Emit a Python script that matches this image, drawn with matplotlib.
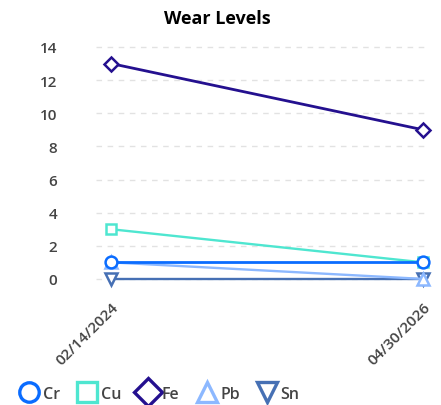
import matplotlib.pyplot as plt
from matplotlib.lines import Line2D

plt.rcParams['font.family'] = ['Open Sans', 'DejaVu Sans']

dates = ["02/14/2024", "04/30/2026"]
elements = ["Cr", "Cu", "Fe", "Pb", "Sn"]
cr = [1, 1]
cu = [3, 1]
fe = [13, 9]
pb = [1, 0]
sn = [0, 0]
yticks = [0, 2, 4, 6, 8, 10, 12, 14]

series = [cr, cu, fe, pb, sn]
colors = ["#0a6cff", "#4ee6d0", "#24108f", "#8cb8ff", "#4670b4"]
markers = ["o", "s", "D", "^", "v"]
msizes = [8.5, 6.5, 7, 8, 8]
lwidths = [2.0, 1.7, 2.0, 1.7, 1.7]
zorders = [5, 4, 6, 3, 2]

fig = plt.figure(figsize=(4.41, 4.06), dpi=100)
ax = fig.add_axes([0.218, 0.286, 0.746, 0.604])

x = list(range(len(dates)))
for name, vals, c, m, ms, lw, z in zip(elements, series, colors, markers, msizes, lwidths, zorders):
    ax.plot(x, vals, color=c, marker=m, markersize=ms, linewidth=lw,
            markerfacecolor="white", markeredgecolor=c, markeredgewidth=1.8,
            zorder=z, clip_on=False, label=name)

ax.set_xlim(-0.048, 1.006)
ax.set_ylim(-0.6, 14.2)
ax.set_yticks(yticks)
ax.set_xticks(x)
ax.set_xticklabels(dates, rotation=45, ha="right", rotation_mode="anchor")
ax.tick_params(length=0, labelsize=11, labelcolor="#444444")
for lab in ax.get_xticklabels() + ax.get_yticklabels():
    lab.set_fontweight("semibold")
ax.tick_params(axis="y", pad=28)
ax.tick_params(axis="x", pad=8)
ax.grid(axis="y", color="#e2e2e2", linestyle=(0, (4, 4)), linewidth=1)
ax.set_axisbelow(True)
for s in ax.spines.values():
    s.set_visible(False)

fig.suptitle("Wear Levels", x=0.492, y=0.975, va="top", fontsize=13, fontweight="bold")

handles = [Line2D([], [], linestyle="none", marker=m, markersize=14,
                  markerfacecolor="white", markeredgecolor=c, markeredgewidth=2.4)
           for c, m in zip(colors, markers)]
leg = fig.legend(handles, elements, loc="lower left", bbox_to_anchor=(0.012, -0.027),
                 ncol=5, frameon=False, handlelength=1.2, handletextpad=0.25,
                 columnspacing=1.1, prop={"size": 11.5, "weight": "semibold"})
for t in leg.get_texts():
    t.set_color("#444444")

fig.savefig("out.png", dpi=100)
